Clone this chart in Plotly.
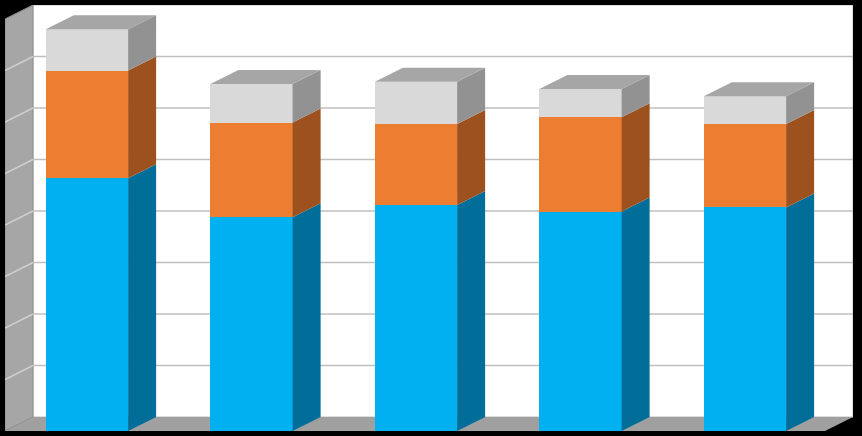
import plotly.graph_objects as go

# ---- data ----
categories = ["1", "2", "3", "4", "5"]
series_names = ["Series 1", "Series 2", "Series 3"]
blue_vals = [4.91, 4.15, 4.39, 4.26, 4.34]
orange_vals = [2.09, 1.84, 1.57, 1.83, 1.62]
gray_vals = [0.80, 0.75, 0.82, 0.55, 0.54]
grid_values = [1, 2, 3, 4, 5, 6, 7]
axis_max = 8

# ---- styling / geometry ----
W, H = 862, 436
ML, MR, MT, MB = 5, 9, 5, 5
PX_PER_CAT = 164.5
PX_PER_UNIT = 51.5
DEPTH_PX_X, DEPTH_PX_Y = 28, 14
first_center_px = 87
BAR_W = 0.5

DX = DEPTH_PX_X / PX_PER_CAT
DY = DEPTH_PX_Y / PX_PER_UNIT
x_lo = (ML - first_center_px) / PX_PER_CAT
x_hi = (W - MR - first_center_px) / PX_PER_CAT
y_lo = 0
y_hi = axis_max + DY

front_cols = ["#00B0F0", "#ED7D31", "#D9D9D9"]
side_cols = ["#006E99", "#9C511E", "#929292"]
top_col = "#A6A6A6"

xs = list(range(len(categories)))
series = [blue_vals, orange_vals, gray_vals]

fig = go.Figure()

# side faces + top faces (3D effect) computed from stacked data
bases = [0.0] * len(xs)
for s_idx, vals in enumerate(series):
    for i, x in enumerate(xs):
        b = bases[i]
        t = b + vals[i]
        xr = x + BAR_W / 2
        fig.add_trace(go.Scatter(
            x=[xr, xr + DX, xr + DX, xr, xr],
            y=[b, b + DY, t + DY, t, b],
            fill="toself", fillcolor=side_cols[s_idx], mode="lines",
            line=dict(width=0), hoverinfo="skip", showlegend=False))
        bases[i] = t
for i, x in enumerate(xs):
    T = bases[i]
    xl = x - BAR_W / 2
    xr = x + BAR_W / 2
    fig.add_trace(go.Scatter(
        x=[xl, xl + DX, xr + DX, xr, xl],
        y=[T, T + DY, T + DY, T, T],
        fill="toself", fillcolor=top_col, mode="lines",
        line=dict(width=0), hoverinfo="skip", showlegend=False))

# front faces
for s_idx, vals in enumerate(series):
    fig.add_trace(go.Bar(
        x=xs, y=vals, name=series_names[s_idx], width=BAR_W,
        marker=dict(color=front_cols[s_idx], line=dict(width=0)),
        showlegend=False))

shapes = []
# back wall
shapes.append(dict(type="rect", xref="x", yref="y", layer="below",
                   x0=x_lo + DX, x1=x_hi, y0=DY, y1=y_hi,
                   fillcolor="white", line=dict(color="#BFBFBF", width=1)))
# left wall
shapes.append(dict(type="path", xref="x", yref="y", layer="below",
                   path=f"M {x_lo},{0} L {x_lo + DX},{DY} L {x_lo + DX},{y_hi} "
                        f"L {x_lo},{y_hi - DY} Z",
                   fillcolor="#A6A6A6", line=dict(color="#8C8C8C", width=1)))
# floor
shapes.append(dict(type="path", xref="x", yref="y", layer="below",
                   path=f"M {x_lo},{0} L {x_lo + DX},{DY} L {x_hi},{DY} "
                        f"L {x_hi - DX},{0} Z",
                   fillcolor="#A0A0A0", line=dict(color="#A0A0A0", width=0)))
# gridlines on back wall and left wall
for v in grid_values:
    shapes.append(dict(type="line", xref="x", yref="y", layer="below",
                       x0=x_lo + DX, x1=x_hi, y0=v + DY, y1=v + DY,
                       line=dict(color="#BFBFBF", width=1.6)))
    shapes.append(dict(type="line", xref="x", yref="y", layer="below",
                       x0=x_lo, x1=x_lo + DX, y0=v, y1=v + DY,
                       line=dict(color="#D0D0D0", width=1.4)))

fig.update_layout(
    width=W, height=H,
    margin=dict(l=ML, r=MR, t=MT, b=MB),
    paper_bgcolor="black", plot_bgcolor="black",
    barmode="stack", bargap=0,
    shapes=shapes,
    xaxis=dict(range=[x_lo, x_hi], visible=False, fixedrange=True),
    yaxis=dict(range=[y_lo, y_hi], visible=False, fixedrange=True),
)

fig.write_html(
    "out.html",
    config={"displayModeBar": False},
    post_script="document.body.style.margin='0';document.body.style.padding='0';"
                "document.body.style.background='black';"
                "document.documentElement.style.background='black';",
)
